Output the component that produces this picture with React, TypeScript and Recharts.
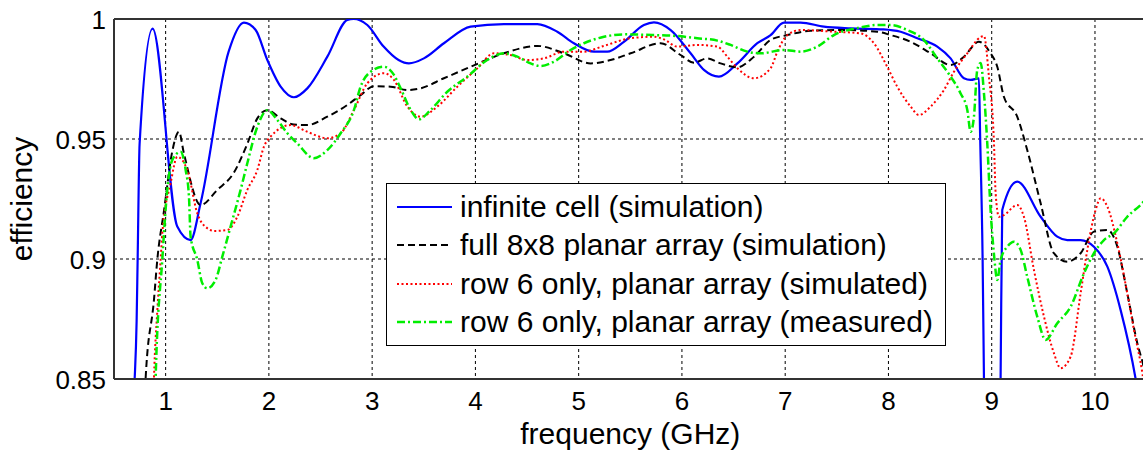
import React from 'react';
import { LineChart, Line, XAxis, YAxis, CartesianGrid, Legend, ReferenceLine, Label } from 'recharts';

const FONT = '"Liberation Sans", Arial, Helvetica, sans-serif';

// frequency (GHz) / efficiency pairs
const infiniteCell = [
  [0.6, 0.8], [0.7, 0.85], [0.719, 0.874], [0.729, 0.9], [0.748, 0.948], [0.874, 0.996],
  [1.113, 0.9135], [1.242, 0.9079], [1.339, 0.9233], [1.61, 0.9864], [1.758, 0.9985],
  [1.872, 0.9954], [1.985, 0.9829], [2.114, 0.9718], [2.242, 0.9674], [2.372, 0.9711],
  [2.566, 0.9843], [2.76, 0.9996], [2.821, 1.0], [2.953, 0.9975], [3.111, 0.9885],
  [3.256, 0.9829], [3.356, 0.9815], [3.501, 0.9836], [3.695, 0.9899], [3.954, 0.9968],
  [4.276, 0.9979], [4.6, 0.9979], [4.793, 0.9947], [4.954, 0.9899], [5.148, 0.9864],
  [5.277, 0.9864], [5.438, 0.9905], [5.632, 0.9975], [5.729, 0.9986], [5.891, 0.9954],
  [6.084, 0.9857], [6.213, 0.9788], [6.358, 0.976], [6.537, 0.9815], [6.73, 0.9899],
  [6.859, 0.9933], [6.988, 0.9985], [7.149, 0.9985], [7.375, 0.9968], [7.634, 0.9961],
  [7.953, 0.9957], [8.118, 0.9947], [8.28, 0.992], [8.473, 0.9885], [8.602, 0.9836],
  [8.731, 0.9753], [8.796, 0.9746], [8.876, 0.9753], [8.888, 0.951], [8.912, 0.8996],
  [8.925, 0.85], [8.94, 0.8], [9.07, 0.8], [9.086, 0.85], [9.102, 0.9204], [9.247, 0.9322],
  [9.474, 0.9176], [9.635, 0.9093], [9.732, 0.9079], [9.861, 0.9079], [9.99, 0.9051],
  [10.12, 0.8968], [10.248, 0.8788], [10.394, 0.85], [10.5, 0.82],
];

const fullArray = [
  [0.76, 0.8], [0.806, 0.85], [0.887, 0.883], [0.92, 0.9], [0.984, 0.92], [1.065, 0.945],
  [1.129, 0.953], [1.177, 0.944], [1.339, 0.9225], [1.501, 0.9288], [1.661, 0.936],
  [1.791, 0.948], [1.888, 0.9586], [1.985, 0.962], [2.114, 0.9586], [2.242, 0.956],
  [2.372, 0.9558], [2.566, 0.9593], [2.76, 0.9642], [2.888, 0.9683], [3.017, 0.972],
  [3.179, 0.9718], [3.341, 0.9704], [3.469, 0.9711], [3.695, 0.9753], [3.954, 0.9801],
  [4.276, 0.9857], [4.6, 0.9888], [4.857, 0.9857], [5.116, 0.9815], [5.309, 0.9829],
  [5.503, 0.9857], [5.794, 0.9899], [5.987, 0.985], [6.116, 0.9818], [6.246, 0.9836],
  [6.375, 0.9815], [6.537, 0.9799], [6.698, 0.9843], [6.859, 0.9913], [7.021, 0.9933],
  [7.246, 0.9951], [7.569, 0.9954], [7.892, 0.9947], [8.021, 0.9933], [8.215, 0.9905],
  [8.408, 0.9857], [8.602, 0.9808], [8.731, 0.9843], [8.876, 0.9905], [8.989, 0.9857],
  [9.054, 0.9801], [9.118, 0.9676], [9.247, 0.9593], [9.344, 0.9454], [9.474, 0.9232],
  [9.602, 0.9024], [9.732, 0.8989], [9.861, 0.9024], [9.99, 0.9114], [10.12, 0.9121],
  [10.217, 0.9051], [10.313, 0.8857], [10.41, 0.8649], [10.471, 0.8551], [10.55, 0.835],
];

const row6Simulated = [
  [0.86, 0.8], [0.887, 0.85], [0.92, 0.8788], [0.952, 0.9], [0.968, 0.9108], [1.048, 0.9315],
  [1.113, 0.9426], [1.21, 0.937], [1.307, 0.919], [1.404, 0.9128], [1.468, 0.9117],
  [1.598, 0.9121], [1.694, 0.9176], [1.791, 0.9288], [1.888, 0.9371], [1.952, 0.9468],
  [2.017, 0.951], [2.211, 0.9558], [2.372, 0.953], [2.566, 0.9503], [2.695, 0.9524],
  [2.824, 0.9621], [2.953, 0.9732], [3.114, 0.9774], [3.211, 0.9746], [3.341, 0.9635],
  [3.469, 0.9593], [3.631, 0.9635], [3.825, 0.9718], [4.019, 0.9795], [4.179, 0.9857],
  [4.341, 0.985], [4.503, 0.9829], [4.664, 0.9836], [4.857, 0.9864], [5.051, 0.9864],
  [5.245, 0.9888], [5.503, 0.992], [5.729, 0.9926], [5.826, 0.9915], [5.955, 0.9885],
  [6.149, 0.9892], [6.343, 0.9885], [6.44, 0.9843], [6.537, 0.9795], [6.698, 0.9753],
  [6.859, 0.9795], [6.924, 0.9864], [7.021, 0.9933], [7.149, 0.9954], [7.472, 0.9947],
  [7.73, 0.994], [7.859, 0.9899], [7.988, 0.9801], [8.085, 0.9718], [8.215, 0.9635],
  [8.295, 0.96], [8.408, 0.9635], [8.537, 0.9704], [8.634, 0.978], [8.764, 0.9857],
  [8.893, 0.9925], [8.925, 0.9929], [8.973, 0.976], [9.022, 0.9482], [9.038, 0.9274],
  [9.07, 0.9176], [9.118, 0.9183], [9.247, 0.9225], [9.312, 0.9176], [9.409, 0.8954],
  [9.506, 0.876], [9.603, 0.8607], [9.667, 0.8545], [9.764, 0.8593], [9.861, 0.8857],
  [9.926, 0.9038], [10.006, 0.9204], [10.055, 0.9253], [10.12, 0.9218], [10.217, 0.9065],
  [10.313, 0.8857], [10.378, 0.8704], [10.459, 0.8524], [10.5, 0.84],
];

const row6Measured = [
  [0.88, 0.8], [0.903, 0.85], [0.968, 0.9], [1.016, 0.9288], [1.065, 0.9413], [1.145, 0.9447],
  [1.194, 0.9371], [1.226, 0.926], [1.242, 0.9093], [1.307, 0.8996], [1.355, 0.8899],
  [1.404, 0.8878], [1.484, 0.8913], [1.549, 0.901], [1.629, 0.9135], [1.726, 0.9288],
  [1.791, 0.9399], [1.888, 0.9551], [1.985, 0.962], [2.082, 0.9579], [2.179, 0.9524],
  [2.275, 0.9482], [2.436, 0.942], [2.566, 0.9454], [2.695, 0.9524], [2.824, 0.9621],
  [2.888, 0.9718], [2.985, 0.978], [3.114, 0.9801], [3.211, 0.9767], [3.276, 0.9711],
  [3.373, 0.9621], [3.453, 0.9582], [3.566, 0.9621], [3.728, 0.9697], [3.922, 0.976],
  [4.115, 0.9829], [4.276, 0.9857], [4.406, 0.9843], [4.535, 0.9815], [4.632, 0.9804],
  [4.76, 0.9822], [4.922, 0.9871], [5.051, 0.9899], [5.245, 0.9926], [5.438, 0.9936],
  [5.729, 0.9933], [5.955, 0.9929], [6.149, 0.992], [6.343, 0.991], [6.472, 0.9892],
  [6.633, 0.9864], [6.762, 0.9857], [6.988, 0.9871], [7.149, 0.9864], [7.311, 0.9885],
  [7.472, 0.9933], [7.73, 0.9965], [7.892, 0.9975], [8.021, 0.9975], [8.183, 0.9954],
  [8.344, 0.9912], [8.473, 0.9836], [8.602, 0.976], [8.699, 0.969], [8.764, 0.962],
  [8.796, 0.953], [8.828, 0.9593], [8.86, 0.9788], [8.893, 0.9817], [8.925, 0.969],
  [8.957, 0.9482], [8.989, 0.9204], [9.021, 0.9024], [9.054, 0.8913], [9.086, 0.8996],
  [9.151, 0.9051], [9.215, 0.9072], [9.28, 0.9038], [9.344, 0.8926], [9.441, 0.876],
  [9.522, 0.8663], [9.635, 0.8732], [9.764, 0.8801], [9.893, 0.894], [9.99, 0.9024],
  [10.087, 0.9079], [10.184, 0.9107], [10.313, 0.9176], [10.471, 0.9239], [10.5, 0.9255],
];

const xTicks = [1, 2, 3, 4, 5, 6, 7, 8, 9, 10];
const yTicks = [0.85, 0.9, 0.95, 1];

const series = [
  { name: 'infinite cell (simulation)', points: infiniteCell, color: '#0000ff', dash: undefined, width: 2.2 },
  { name: 'full 8x8 planar array (simulation)', points: fullArray, color: '#000000', dash: '7 4', width: 2 },
  { name: 'row 6 only, planar array (simulated)', points: row6Simulated, color: '#ff0000', dash: '2 2.5', width: 2 },
  { name: 'row 6 only, planar array (measured)', points: row6Measured, color: '#00ee00', dash: '8 3 2 3', width: 2.5 },
];

const XTick = (props: any) => (
  <text x={props.x} y={props.y} dy={31} textAnchor="middle" fontSize={26} fill="#000" fontFamily={FONT}>
    {props.payload.value}
  </text>
);

const YTick = (props: any) => (
  <text x={props.x} y={props.y} dy={10} textAnchor="end" fontSize={26} fill="#000" fontFamily={FONT}>
    {props.payload.value}
  </text>
);

const LegendBox = () => (
  <div style={{ width: 560, height: 163, boxSizing: 'border-box', border: '1px solid #000', background: '#fff', paddingTop: 4, fontFamily: FONT }}>
    {series.map((s) => (
      <div key={s.name} style={{ height: 38.3, display: 'flex', alignItems: 'center' }}>
        <svg width={73} height={10} style={{ flexShrink: 0 }}>
          <line x1={10} x2={65} y1={5} y2={5} stroke={s.color} strokeWidth={s.width} strokeDasharray={s.dash} />
        </svg>
        <span style={{ fontSize: 30, color: '#000', whiteSpace: 'nowrap' }}>{s.name}</span>
      </div>
    ))}
  </div>
);

export default function App() {
  return (
    <div style={{ position: 'fixed', left: 0, top: 0, width: 1143, height: 451, overflow: 'hidden', background: '#fff' }}>
      <LineChart width={1150} height={451} margin={{ top: 19, right: 3.4, bottom: 0, left: 0 }}>
        <CartesianGrid stroke="#000" strokeDasharray="3 3" strokeWidth={1} />
        <XAxis
          type="number"
          dataKey="f"
          domain={[0.5, 10.5]}
          ticks={xTicks}
          allowDataOverflow
          height={72}
          tickLine={false}
          tickSize={0}
          tickMargin={0}
          axisLine={{ stroke: '#333', strokeWidth: 2 }}
          tick={<XTick />}
          interval={0}
        >
          <Label value="frequency (GHz)" position="insideBottom" offset={7} fontSize={30} fill="#000" fontFamily={FONT} />
        </XAxis>
        <YAxis
          type="number"
          domain={[0.85, 1]}
          ticks={yTicks}
          allowDataOverflow
          width={114}
          tickLine={false}
          tickSize={0}
          tickMargin={8}
          axisLine={{ stroke: '#333', strokeWidth: 2 }}
          tick={<YTick />}
          interval={0}
        >
          <Label
            content={(p: any) => {
              const vb = p.viewBox;
              const cy = vb.y + vb.height / 2;
              return (
                <text x={32} y={cy} transform={`rotate(-90 32 ${cy})`} textAnchor="middle" fontSize={30} fill="#000" fontFamily={FONT}>
                  efficiency
                </text>
              );
            }}
          />
        </YAxis>
        <ReferenceLine y={1} stroke="#333" strokeWidth={2} />
        {series.map((s) => (
          <Line
            key={s.name}
            data={s.points.map(([f, v]) => ({ f, v }))}
            dataKey="v"
            name={s.name}
            type="monotone"
            stroke={s.color}
            strokeWidth={s.width}
            strokeDasharray={s.dash}
            dot={false}
            activeDot={false}
            isAnimationActive={false}
          />
        ))}
        <Legend
          layout="vertical"
          align="center"
          verticalAlign="middle"
          content={<LegendBox />}
          wrapperStyle={{ left: 386, top: 183, width: 560, height: 163 }}
        />
      </LineChart>
    </div>
  );
}
